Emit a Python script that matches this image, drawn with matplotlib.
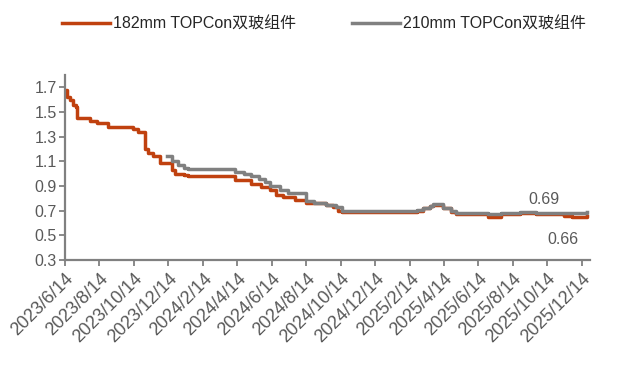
import matplotlib
matplotlib.use("Agg")
import matplotlib.pyplot as plt
import pandas as pd

plt.rcParams['font.family'] = ['Liberation Sans', 'Noto Sans CJK SC', 'DejaVu Sans']

# 182mm series: price change points (yuan/W), held until next change
r_dates = ["2023-06-14", "2023-06-17", "2023-06-23", "2023-06-28", "2023-07-03",
           "2023-07-05", "2023-07-28", "2023-08-09", "2023-08-29", "2023-10-12",
           "2023-10-22", "2023-11-03", "2023-11-08", "2023-11-17", "2023-11-29",
           "2023-12-20", "2023-12-26", "2024-01-10", "2024-01-17", "2024-04-10",
           "2024-05-08", "2024-05-25", "2024-06-10", "2024-06-22", "2024-07-03",
           "2024-07-24", "2024-08-14", "2024-09-18", "2024-09-30", "2024-10-09",
           "2024-10-16", "2025-02-26", "2025-03-08", "2025-03-20", "2025-03-26",
           "2025-04-12", "2025-04-26", "2025-05-05", "2025-07-01", "2025-07-24",
           "2025-08-27", "2025-09-24", "2025-11-12", "2025-11-26", "2025-12-24"]
r_vals = [1.68, 1.62, 1.60, 1.56, 1.54,
          1.45, 1.43, 1.41, 1.38, 1.36,
          1.34, 1.20, 1.17, 1.14, 1.09,
          1.03, 1.00, 0.99, 0.98, 0.95,
          0.92, 0.89, 0.87, 0.83, 0.81,
          0.785, 0.765, 0.745, 0.73, 0.70,
          0.688, 0.70, 0.72, 0.74, 0.75,
          0.72, 0.69, 0.675, 0.65, 0.67,
          0.68, 0.675, 0.66, 0.65, 0.66]

# 210mm series
g_dates = ["2023-12-11", "2023-12-20", "2023-12-31", "2024-01-10", "2024-01-17",
           "2024-04-10", "2024-04-26", "2024-05-08", "2024-05-22", "2024-06-01",
           "2024-06-10", "2024-06-28", "2024-07-12", "2024-08-14", "2024-08-28",
           "2024-09-18", "2024-10-05", "2024-10-16", "2025-02-26", "2025-03-08",
           "2025-03-20", "2025-03-26", "2025-04-12", "2025-04-26", "2025-05-05",
           "2025-07-01", "2025-07-24", "2025-08-27", "2025-09-24", "2025-11-12",
           "2025-12-24"]
g_vals = [1.14, 1.10, 1.07, 1.05, 1.035,
          1.015, 1.00, 0.98, 0.96, 0.93,
          0.90, 0.87, 0.84, 0.78, 0.765,
          0.75, 0.73, 0.70, 0.705, 0.72,
          0.74, 0.755, 0.725, 0.70, 0.68,
          0.675, 0.68, 0.69, 0.683, 0.678,
          0.69]

tick_dates = ["2023-06-14", "2023-08-14", "2023-10-14", "2023-12-14", "2024-02-14",
              "2024-04-14", "2024-06-14", "2024-08-14", "2024-10-14", "2024-12-14",
              "2025-02-14", "2025-04-14", "2025-06-14", "2025-08-14", "2025-10-14",
              "2025-12-14"]
y_ticks = [0.3, 0.5, 0.7, 0.9, 1.1, 1.3, 1.5, 1.7]

RED = "#C0410F"
GRAY = "#808080"
TXT = "#595959"

rd = pd.to_datetime(r_dates)
gd = pd.to_datetime(g_dates)
td = pd.to_datetime(tick_dates)

fig = plt.figure(figsize=(6.39, 3.72), dpi=100)
ax = fig.add_axes([0.1017, 0.301, 0.821, 0.497])

ax.plot(rd, r_vals, drawstyle='steps-post', color=RED, lw=2.5,
        label="182mm TOPCon双玻组件")
ax.plot(gd, g_vals, drawstyle='steps-post', color=GRAY, lw=2.5,
        label="210mm TOPCon双玻组件")

ax.set_xlim(td[0], pd.Timestamp("2025-12-28"))
ax.set_ylim(0.3, 1.8)
ax.set_yticks(y_ticks)
ax.set_yticklabels([f"{v:.1f}" for v in y_ticks])
ax.set_xticks(td)
ax.set_xticklabels([f"{d.year}/{d.month}/{d.day}" for d in td],
                   rotation=45, ha='right', rotation_mode='anchor')

for s in ('top', 'right'):
    ax.spines[s].set_visible(False)
for s in ('left', 'bottom'):
    ax.spines[s].set_color(GRAY)
    ax.spines[s].set_linewidth(1.6)
ax.tick_params(axis='both', colors=GRAY, width=1.3, length=4,
               labelcolor=TXT, labelsize=11.5, pad=2)
ax.tick_params(axis='x', labelsize=13, pad=3)

# end-value labels
ax.text(pd.Timestamp("2025-10-09"), 0.79, f"{g_vals[-1]:.2f}", color=TXT,
        fontsize=11.5, ha='center', va='center')
ax.text(pd.Timestamp("2025-11-10"), 0.465, f"{r_vals[-1]:.2f}", color=TXT,
        fontsize=11.5, ha='center', va='center')

fig.legend(loc='center', bbox_to_anchor=(0.507, 0.935), ncol=2, frameon=False,
           fontsize=11.5, handlelength=3.0, handletextpad=0.2, columnspacing=3.5,
           labelcolor="#262626")

fig.savefig("out.png", dpi=100, facecolor='white')
